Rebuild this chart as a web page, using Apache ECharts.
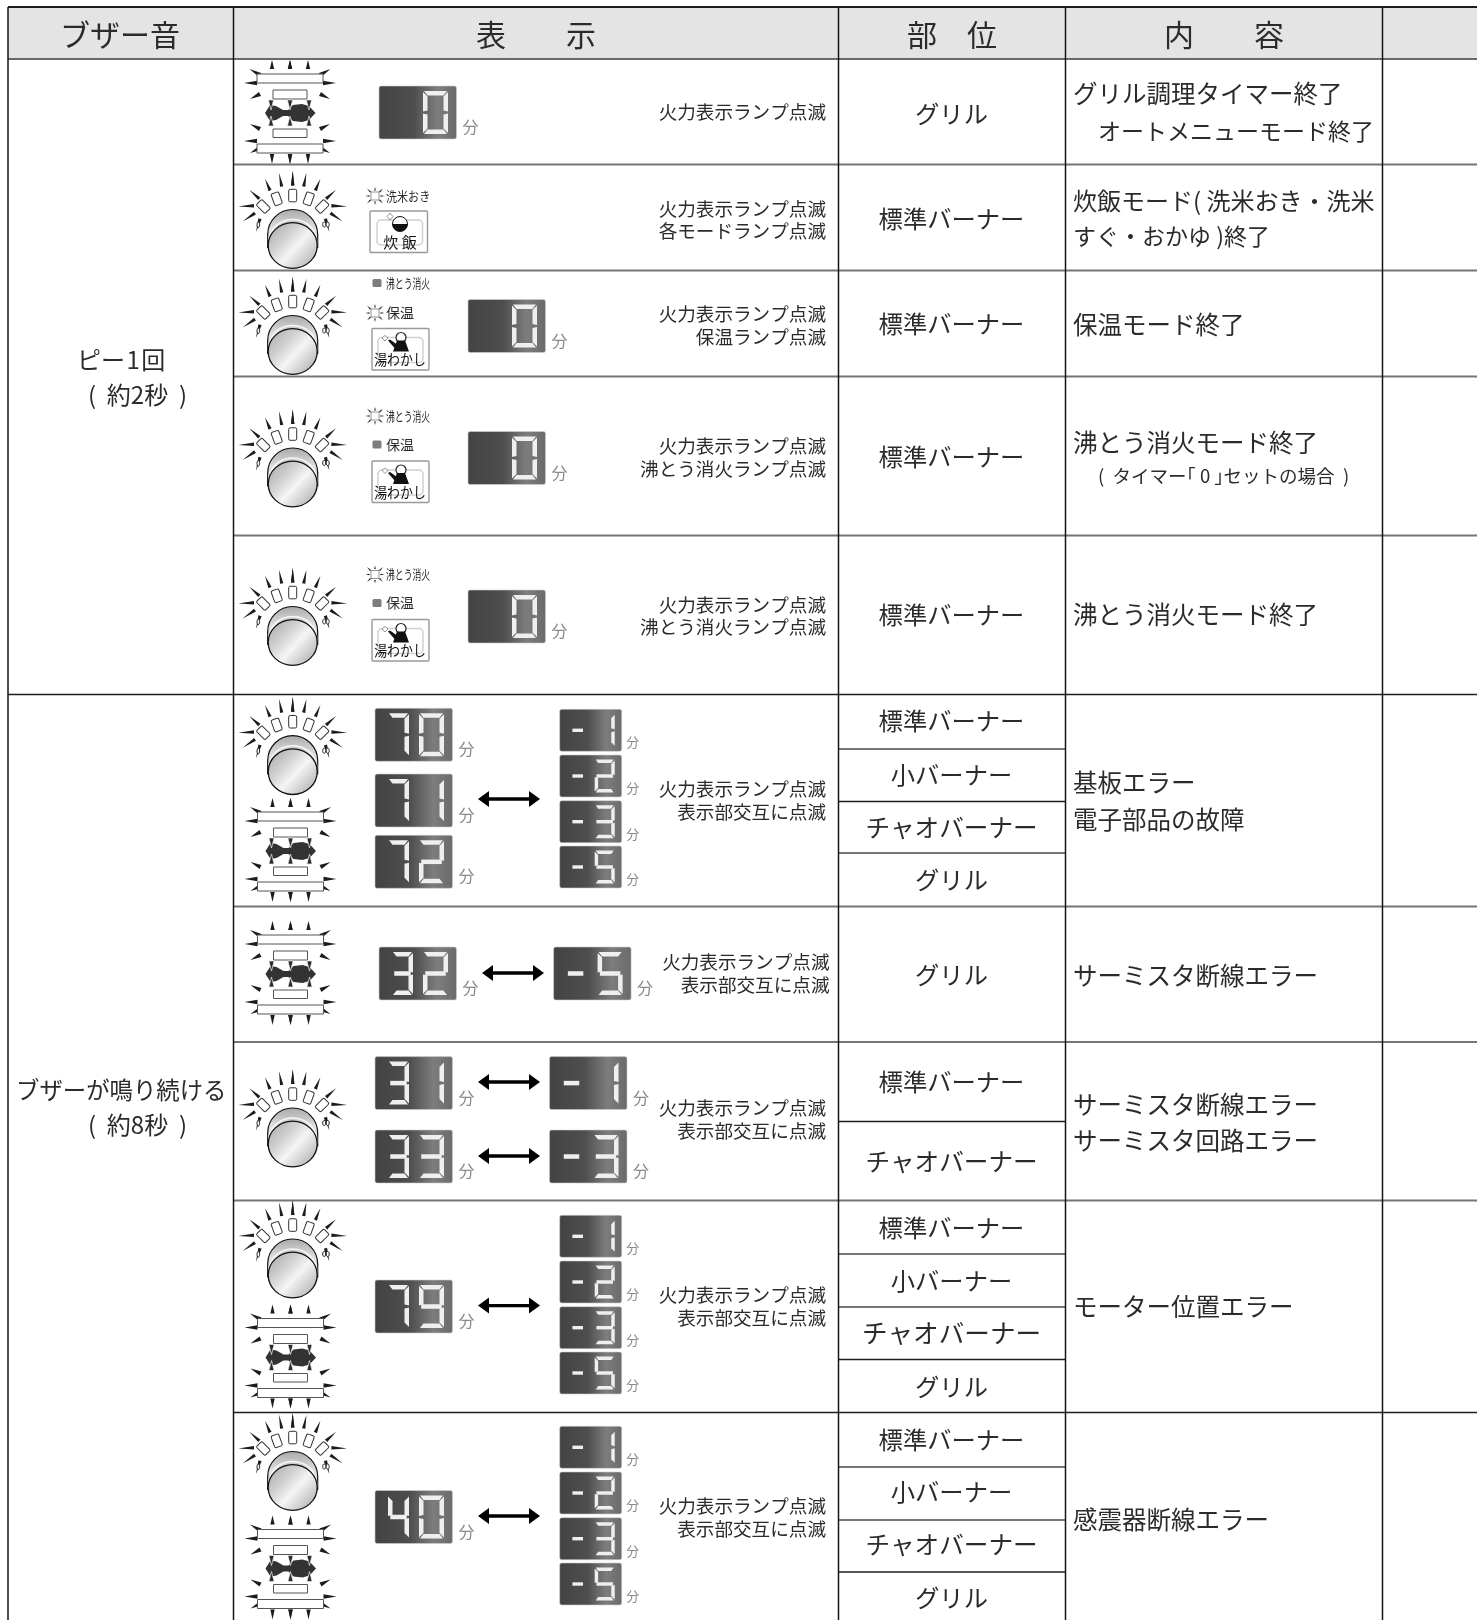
<!DOCTYPE html>
<html lang="ja">
<head>
<meta charset="utf-8">
<title>ブザー音</title>
<style>
  html, body { margin: 0; padding: 0; background: #fff; }
  #chart { width: 1477px; height: 1620px; }
</style>
</head>
<body>
<div id="chart"></div>
<script src="https://cdn.jsdelivr.net/npm/echarts@6/dist/echarts.min.js"></script>
<script>
// Table content
const headerLabels = ['ブザー音', '表　　示', '部　位', '内　　容'];
const buzzerLabels = ['ピー\u200a1\u200a回', '(  約2秒  )', 'ブザーが鳴り続ける', '(  約8秒  )'];
const partNames = ['グリル', '標準バーナー', '標準バーナー', '標準バーナー', '標準バーナー',
  '標準バーナー', '小バーナー', 'チャオバーナー', 'グリル', 'グリル', '標準バーナー', 'チャオバーナー',
  '標準バーナー', '小バーナー', 'チャオバーナー', 'グリル', '標準バーナー', '小バーナー', 'チャオバーナー', 'グリル'];
const detailTexts = ['グリル調理タイマー終了', 'オートメニューモード終了', '炊飯モード( 洗米おき・洗米', 'すぐ・おかゆ )終了',
  '保温モード終了', '沸とう消火モード終了', '(  タイマー｢ 0 ｣セットの場合  )', '沸とう消火モード終了', '基板エラー', '電子部品の故障',
  'サーミスタ断線エラー', 'サーミスタ断線エラー', 'サーミスタ回路エラー', 'モーター位置エラー', '感震器断線エラー'];
const noteTexts = ['火力表示ランプ点滅', '火力表示ランプ点滅', '各モードランプ点滅', '火力表示ランプ点滅', '保温ランプ点滅',
  '火力表示ランプ点滅', '沸とう消火ランプ点滅', '火力表示ランプ点滅', '沸とう消火ランプ点滅', '火力表示ランプ点滅', '表示部交互に点滅',
  '火力表示ランプ点滅', '表示部交互に点滅', '火力表示ランプ点滅', '表示部交互に点滅', '火力表示ランプ点滅', '表示部交互に点滅',
  '火力表示ランプ点滅', '表示部交互に点滅'];
const largeReadings = [' 0', ' 0', ' 0', ' 0', '70', '71', '72', '32', '-5', '31', '33', '-1', '-3', '79', '40'];
const smallReadings = ['-1', '-2', '-3', '-5', '-1', '-2', '-3', '-5', '-1', '-2', '-3', '-5'];
const unitLabel = '分';

// Layout, in page pixels (the axes below run 1:1 with the page)
const columnEdges = [8, 233.5, 838.5, 1065.5, 1382.5, 1477];
const rowEdges = [7, 59, 164.5, 270.5, 376.5, 535.5, 694.5, 906.5, 1042, 1200.5, 1412.5];
const partLineRows = [749, 801.5, 853, 1121.5, 1254, 1307, 1359.5, 1467, 1520, 1572];
const partRows = [113.6, 219, 324, 456.5, 614.6, 721, 774.7, 827.5, 880, 975, 1081.5, 1162, 1228, 1281, 1333.5, 1386.5, 1440, 1491.5, 1544.5, 1598];
const detailPlaces = [[1073, 94], [1098, 131], [1073, 200.4], [1073, 236.5], [1073, 325], [1073, 442.5], [1098, 476], [1073, 615],
  [1073, 782.5], [1073, 820], [1073, 976], [1073, 1105], [1073, 1140.5], [1073, 1307], [1073, 1520]];
const noteRows = [111.5, 208.6, 231.4, 314, 336.7, 446, 469, 605, 627, 789, 812, 961.6, 985, 1108, 1131, 1295, 1318, 1506, 1529];
const largePlaces = [[379, 86], [468, 299.5], [468, 431.5], [468, 590], [375, 708.3], [375, 774], [375, 835.3],
  [379, 947], [553.6, 947], [375, 1056.6], [375, 1130], [549.5, 1056.6], [549.5, 1130], [375, 1280], [375, 1490.5]];
const smallPlaces = [[559.7, 709.3], [559.7, 755], [559.7, 800.7], [559.7, 846],
  [559.7, 1215.3], [559.7, 1261], [559.7, 1306.7], [559.7, 1352],
  [559.7, 1426.3], [559.7, 1472], [559.7, 1517.7], [559.7, 1563]];
const knobPlaces = [[292.7, 245.5], [292.7, 351.5], [292.7, 484], [292.7, 642.5], [292.7, 771.7], [292.7, 1144], [292.7, 1275], [292.7, 1487.5]];
const grillPlaces = [[290, 113], [290.5, 851], [290.5, 974], [290.5, 1357.5], [290.5, 1568.5]];
const arrowPlaces = [[478, 540, 799], [482, 544, 973], [478, 540, 1082], [478, 540, 1156], [478, 540, 1305.6], [478, 540, 1516]];

const FONT = '"Noto Sans CJK JP", "Noto Sans", sans-serif';
const INK = '#2b2b2b';
const LINE = '#141414';

function poly(points, fill, stroke, lineWidth) {
  return { type: 'polygon', shape: { points }, style: { fill, stroke: stroke || null, lineWidth: lineWidth || 0 } };
}

function label(text, x, y, size, opts) {
  const o = opts || {};
  return {
    type: 'text', x, y, scaleX: o.scaleX || 1,
    style: {
      text, fontFamily: FONT, fontSize: size, fill: o.fill || INK,
      textAlign: o.align || 'left', textVerticalAlign: 'middle', fontWeight: o.weight || 400
    }
  };
}

// tip is the far end, base the end nearest the lamp
function spike(tx, ty, bx, by, w) {
  const dx = bx - tx, dy = by - ty;
  const len = Math.sqrt(dx * dx + dy * dy) || 1;
  const nx = -dy / len * (w / 2), ny = dx / len * (w / 2);
  return poly([[tx, ty], [bx + nx, by + ny], [bx - nx, by - ny]], '#1c1c1c');
}

function box(x, y, w, h, fill, stroke, lineWidth, r) {
  return {
    type: 'rect', shape: { x, y, width: w, height: h, r: r || 0 },
    style: { fill, stroke: stroke || null, lineWidth: lineWidth || 0 }
  };
}

// Seven segment digit
const SEGMENTS = { 0: 'abcdef', 1: 'bc', 2: 'abged', 3: 'abgcd', 5: 'afgcd', 7: 'abc', 9: 'abcdfg', 4: 'fgbc', '-': 'g', ' ': '' };

function digitShapes(ch, x, y, w, h) {
  const t = Math.max(3.4, h * 0.105);
  const m = y + h / 2;
  const paths = {
    a: [[x + 1, y], [x + w - 1, y], [x + w - t, y + t], [x + t, y + t]],
    d: [[x + t, y + h - t], [x + w - t, y + h - t], [x + w - 1, y + h], [x + 1, y + h]],
    f: [[x, y + 1], [x + t, y + t + 1], [x + t, m - 2], [x, m - 1]],
    e: [[x, m + 1], [x + t, m + 2], [x + t, y + h - t - 1], [x, y + h - 1]],
    b: [[x + w, y + 1], [x + w, m - 1], [x + w - t, m - 2], [x + w - t, y + t + 1]],
    c: [[x + w, m + 1], [x + w, y + h - 1], [x + w - t, y + h - t - 1], [x + w - t, m + 2]],
    g: [[x + t * 0.5, m - t / 2], [x + w - t * 0.5, m - t / 2], [x + w - t * 0.5, m + t / 2], [x + t * 0.5, m + t / 2]]
  };
  return (SEGMENTS[ch] || '').split('').map(s => poly(paths[s], '#efefef'));
}

function lcdFill() {
  return new echarts.graphic.LinearGradient(0, 0, 1, 0, [
    { offset: 0, color: '#434343' }, { offset: 0.45, color: '#4e4e4e' },
    { offset: 0.75, color: '#7d7d7d' }, { offset: 1, color: '#6a6a6a' }
  ]);
}

function drawLcd(item) {
  const large = item.large;
  const w = large ? 77.5 : 62, h = large ? 53 : 42;
  const parts = [box(0, 0, w, h, lcdFill(), '#cfcfcf', 0.6, 2)];
  const [a, b] = item.text.split('');
  if (large) {
    if (a === '-') parts.push(...digitShapes('-', 12, 5, 20, 43));
    else parts.push(...digitShapes(a, 13, 5, 21, 43));
    parts.push(...digitShapes(b, 44, 5, 25, 43));
    parts.push(label(unitLabel, w + 14, 41, 16, { fill: '#8a8a8a', align: 'center' }));
  } else {
    parts.push(...digitShapes(a, 11, 5, 14, 32));
    parts.push(...digitShapes(b, 35, 4.5, 20, 33));
    parts.push(label(unitLabel, w + 11, 33, 13, { fill: '#8a8a8a', align: 'center' }));
  }
  return parts;
}

// Burner dial with its flashing lamps
const knobRays = [[0, -74.6, 0, -60], [-13.7, -72.7, -11, -59], [-27.7, -66.7, -22.7, -55], [-43.4, -55.7, -33.4, -46.7],
  [-54.4, -39, -38.7, -39.7], [-50, -24, -37.7, -32.4], [-36.7, -13.4, -32.7, -26.7]];
const knobLamps = [[0, -50, 0], [-16, -46.7, 20], [-29.4, -39, 45], [16, -46.7, -20], [29.4, -39, -45]];

function drawKnob() {
  const parts = [];
  knobRays.forEach(r => {
    parts.push(spike(r[0], r[1], r[2], r[3], 3.4));
    parts.push(spike(-r[0], r[1], -r[2], r[3], 3.4));
  });
  knobLamps.forEach(l => {
    parts.push({
      type: 'rect', x: l[0], y: l[1], rotation: l[2] * Math.PI / 180,
      shape: { x: -4, y: -6.2, width: 8, height: 12.5, r: 1.5 },
      style: { fill: '#fff', stroke: '#333', lineWidth: 1 }
    });
  });
  parts.push({ type: 'ellipse', shape: { cx: -34.4, cy: -20.7, rx: 1.3, ry: 2.8 }, style: { fill: '#fff', stroke: '#222', lineWidth: 1 } });
  parts.push({ type: 'ellipse', shape: { cx: 31.5, cy: -21, rx: 1.5, ry: 2.6 }, style: { fill: '#fff', stroke: '#222', lineWidth: 1 } });
  parts.push({ type: 'ellipse', shape: { cx: 35, cy: -21, rx: 1.5, ry: 2.6 }, style: { fill: '#fff', stroke: '#222', lineWidth: 1 } });
  parts.push(box(-25, -36, 50, 38, new echarts.graphic.LinearGradient(0, 0, 0, 1, [
    { offset: 0, color: '#a8a8a8' }, { offset: 0.5, color: '#e0e0e0' }, { offset: 1, color: '#c8c8c8' }
  ]), '#111', 1.2, [25, 25, 0, 0]));
  parts.push({ type: 'ellipse', shape: { cx: 0, cy: -3.5, rx: 24, ry: 22.5 }, style: { fill: null, stroke: '#f7f7f7', lineWidth: 1.6 } });
  parts.push({
    type: 'ellipse', shape: { cx: 0, cy: 0, rx: 24.5, ry: 22.8 },
    style: {
      fill: new echarts.graphic.LinearGradient(0, 0, 1, 1, [
        { offset: 0, color: '#a3a3a3' }, { offset: 0.35, color: '#d2d2d2' }, { offset: 0.55, color: '#f5f5f5' },
        { offset: 0.8, color: '#c6c6c6' }, { offset: 1, color: '#a9a9a9' }
      ]), stroke: '#111', lineWidth: 1.3
    }
  });
  return parts;
}

// Grill lamps with the fish between them
const grillSpikes = [[-18, -53, -18, -44], [0, -53, 0, -44], [-40.5, -44, -30, -38], [-46, -30, -33, -30], [-40, -14, -30, -19],
  [-40, 11, -30, 16], [-46, 28, -33, 28], [-40, 40, -30, 35], [-18, 51, -18, 41], [0, 51, 0, 41]];

function drawGrill() {
  const parts = [];
  grillSpikes.forEach(s => {
    parts.push(spike(s[0], s[1], s[2], s[3], 4.4));
    parts.push(spike(-s[0], s[1], -s[2], s[3], 4.4));
  });
  parts.push(box(-33, -39, 66, 9, '#fff', '#555', 1));
  parts.push(box(-17, -23, 34, 9, '#fff', '#555', 1));
  parts.push(box(-17, 16, 34, 8.5, '#fff', '#555', 1));
  parts.push(box(-33, 31, 66, 9, '#fff', '#555', 1));
  // fish: tail on the left, rounded body on the right
  parts.push(poly([[-25, 0], [-20, -8], [-14, -7], [-7, -3], [-2, -3], [3, -8], [12, -9], [19, -7], [25.5, 0], [19, 7], [12, 9], [3, 8], [-2, 3], [-7, 3], [-14, 7], [-20, 8]], '#333'));
  [-19, 0, 19].forEach(x => {
    parts.push(poly([[x - 2.6, -13], [x + 2.6, -13], [x, -3]], '#2a2a2a', '#eee', 0.7));
    parts.push(poly([[x - 2.6, 13], [x + 2.6, 13], [x, 3]], '#2a2a2a', '#eee', 0.7));
  });
  return parts;
}

function drawArrow(item, api) {
  const end = api.coord([item.x2, item.y])[0] - api.coord([item.x, item.y])[0];
  return [
    box(9, -1.7, end - 18, 3.4, '#000'),
    poly([[0, 0], [11, -8], [11, 8]], '#000'),
    poly([[end, 0], [end - 11, -8], [end - 11, 8]], '#000')
  ];
}

// Small lamp beside the mode name: lit (burst) or unlit (grey square)
function burst(x, y) {
  const parts = [box(x - 4, y - 4, 8, 8, '#fff', '#777', 0.8)];
  [[-9.5, 0, -5.5, 0], [-8, -7.5, -4.5, -4], [0, -9, 0, -5.5], [8, -7.5, 4.5, -4], [9.5, 0, 5.5, 0], [-8, 7.5, -4.5, 4], [0, 9, 0, 5.5], [8, 7.5, 4.5, 4]]
    .forEach(r => parts.push(spike(x + r[0], y + r[1], x + r[2], y + r[3], 1.6)));
  return parts;
}

function drawModeLamps(item) {
  const parts = [];
  item.lamps.forEach(l => {
    if (l.lit) parts.push(...burst(375 - item.x, l.y - item.y));
    else parts.push(box(372.5 - item.x, l.y - item.y - 4, 9, 8, '#7d7d7d', null, 0, 1.5));
    parts.push(label(l.text, 386 - item.x, l.y - item.y, l.size, { scaleX: l.scaleX }));
  });
  return parts;
}

function drawRicePanel() {
  return [
    box(0, 0, 57.5, 41.5, '#fff', '#999', 1.4, 1),
    box(7, 9, 45.5, 25, '#fff', '#cfcfcf', 1.5, 4),
    { type: 'circle', shape: { cx: 30, cy: 13, r: 7.5 }, style: { fill: '#fff', stroke: '#111', lineWidth: 1 } },
    { type: 'sector', shape: { cx: 30, cy: 13, r: 7.5, r0: 0, startAngle: 0, endAngle: Math.PI }, style: { fill: '#111' } },
    poly([[20, 2], [23, 5.5], [20, 9], [17, 5.5]], '#fff', '#777', 0.8),
    label('炊 飯', 30, 31, 15, { align: 'center', fill: '#111' })
  ];
}

function drawKettlePanel() {
  return [
    box(0, 0, 57, 41.5, '#fff', '#999', 1.4, 1),
    box(6, 9, 45, 25, '#fff', '#cfcfcf', 1.5, 4),
    { type: 'circle', shape: { cx: 29, cy: 9, r: 5 }, style: { fill: '#fff', stroke: '#222', lineWidth: 1.2 } },
    poly([[25, 12], [33, 12], [37, 23], [21, 23]], '#111'),
    poly([[23, 20], [16, 12], [18, 11], [25, 16]], '#111'),
    poly([[13, 7], [16, 9.5], [13, 12.5], [10, 9.5]], '#fff', '#777', 0.8),
    label('湯わかし', 28, 31, 15, { align: 'center', fill: '#111', scaleX: 0.86 })
  ];
}

// Every drawing goes through the hidden axes: each item is placed by api.coord
function placed(name, items, draw, z) {
  return {
    name, type: 'custom', coordinateSystem: 'cartesian2d', silent: true, clip: false, z: z || 2,
    data: items.map(it => [it.x, it.y]),
    renderItem(params, api) {
      const it = items[params.dataIndex];
      const p = api.coord([it.x, it.y]);
      return { type: 'group', x: p[0], y: p[1], children: draw(it, api) };
    }
  };
}

// Rules: grey heavy ones and thin dark ones, as in the printed table
const right = columnEdges[5];
const left = columnEdges[0];
const ruleItems = [];
function rule(x, y, x2, y2, color, width) { ruleItems.push({ x, y, x2, y2, color, width }); }
const GREY = '#767676', DARK = '#1e1e1e';
const rowColors = [DARK, '#3c3c3c', GREY, GREY, GREY, GREY, DARK, GREY, GREY, GREY, DARK];
rowEdges.forEach((y, i) => {
  const from = (i <= 1 || i === 6) ? left : columnEdges[1];
  rule(from, y, right, y, rowColors[i], i === 0 ? 2 : rowColors[i] === GREY ? 2 : 1.4);
});
const partColors = [GREY, DARK, GREY, DARK, GREY, GREY, DARK, GREY, GREY, DARK];
partLineRows.forEach((y, i) => rule(columnEdges[2], y, columnEdges[3], y, partColors[i], partColors[i] === GREY ? 2 : 1.3));
columnEdges.slice(0, 5).forEach(x => rule(x, rowEdges[0], x, 1620, LINE, 1.5));

const headerItems = [{ x: left, y: rowEdges[0], x2: right, y2: rowEdges[1] }];

// Text
const textItems = [];
headerLabels.forEach((t, i) => textItems.push({ x: [120, 536, 952, 1224][i], y: 34.5, text: t, size: 30, align: 'center' }));
buzzerLabels.forEach((t, i) => textItems.push({ x: [77, 88, 16, 88][i], y: [359.5, 395, 1090, 1124.5][i], text: t, size: [24, 24, 23.4, 24][i] }));
partNames.forEach((t, i) => textItems.push({ x: 951.5, y: partRows[i], text: t, size: i === 14 ? 25.6 : i === 7 || i === 11 || i === 18 ? 24.6 : 24.3, align: 'center' }));
const detailSizes = [24.5, 23, 24, 23, 24.5, 24.5, 18.5, 24.5, 24.5, 24.5, 24.5, 24.5, 24.5, 24.5, 24.5];
detailTexts.forEach((t, i) => textItems.push({ x: detailPlaces[i][0], y: detailPlaces[i][1], text: t, size: detailSizes[i] }));
noteTexts.forEach((t, i) => textItems.push({
  x: (i === 11 || i === 12) ? 829.5 : 826, y: noteRows[i], text: t, size: 18.6, align: 'right'
}));

const lcdItems = largeReadings.map((text, i) => ({ x: largePlaces[i][0], y: largePlaces[i][1], text, large: true }))
  .concat(smallReadings.map((text, i) => ({ x: smallPlaces[i][0], y: smallPlaces[i][1], text, large: false })));

const modeLampItems = [
  { x: 370, y: 190, lamps: [{ lit: true, y: 196, text: '洗米おき', size: 13, scaleX: 0.85 }] },
  { x: 370, y: 280, lamps: [{ lit: false, y: 283, text: '沸とう消火', size: 13, scaleX: 0.68 }, { lit: true, y: 313, text: '保温', size: 14, scaleX: 1 }] },
  { x: 370, y: 412, lamps: [{ lit: true, y: 416, text: '沸とう消火', size: 13, scaleX: 0.68 }, { lit: false, y: 444.5, text: '保温', size: 14, scaleX: 1 }] },
  { x: 370, y: 570, lamps: [{ lit: true, y: 574.5, text: '沸とう消火', size: 13, scaleX: 0.68 }, { lit: false, y: 603, text: '保温', size: 14, scaleX: 1 }] }
];

const chart = echarts.init(document.getElementById('chart'), null, { renderer: 'canvas' });
chart.setOption({
  animation: false,
  backgroundColor: '#fff',
  grid: { left: 0, right: 0, top: 0, bottom: 0 },
  xAxis: { type: 'value', min: 0, max: 1477, show: false },
  yAxis: { type: 'value', min: 0, max: 1620, inverse: true, show: false },
  series: [
    placed('header', headerItems, (it, api) => {
      const a = api.coord([it.x, it.y]), b = api.coord([it.x2, it.y2]);
      return [box(0, 0, b[0] - a[0], b[1] - a[1], '#e4e4e4')];
    }, 1),
    placed('rules', ruleItems, (it, api) => {
      const a = api.coord([it.x, it.y]), b = api.coord([it.x2, it.y2]);
      return [{ type: 'line', shape: { x1: 0, y1: 0, x2: b[0] - a[0], y2: b[1] - a[1] }, style: { stroke: it.color, lineWidth: it.width } }];
    }, 2),
    placed('knobs', knobPlaces.map(p => ({ x: p[0], y: p[1] })), drawKnob, 3),
    placed('grills', grillPlaces.map(p => ({ x: p[0], y: p[1] })), drawGrill, 3),
    placed('lcds', lcdItems, drawLcd, 3),
    placed('arrows', arrowPlaces.map(p => ({ x: p[0], x2: p[1], y: p[2] })), drawArrow, 3),
    placed('modeLamps', modeLampItems, drawModeLamps, 3),
    placed('ricePanel', [{ x: 370, y: 211 }], drawRicePanel, 3),
    placed('kettlePanels', [{ x: 372, y: 328.5 }, { x: 372, y: 461 }, { x: 372, y: 619.5 }], drawKettlePanel, 3),
    placed('texts', textItems, it => [label(it.text, 0, 0, it.size, { align: it.align })], 4)
  ]
});
</script>
</body>
</html>
